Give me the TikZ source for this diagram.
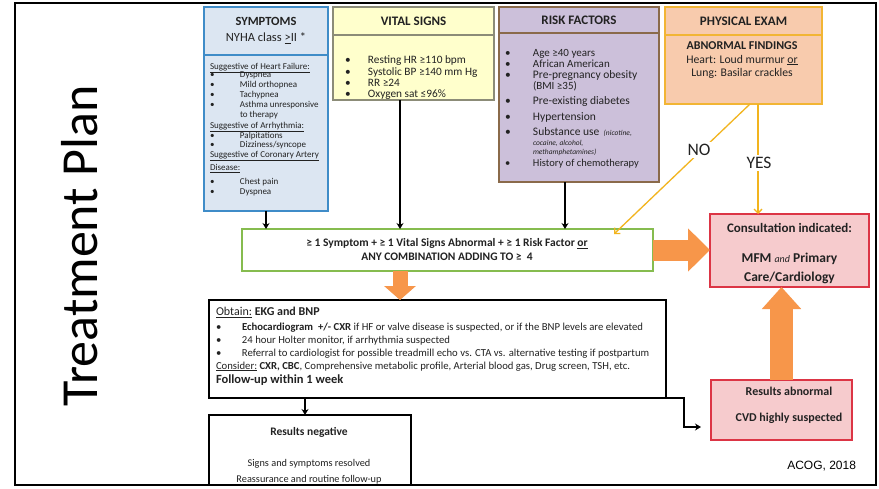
\documentclass[tikz,border=0pt]{standalone}
\usepackage{fontspec}
\setmainfont{Carlito}
\newfontfamily\arialf{Liberation Sans}
\usetikzlibrary{arrows.meta,calc}
\definecolor{txt}{HTML}{222222}
\definecolor{symF}{HTML}{DCE6F2}
\definecolor{symB}{HTML}{3F8CC8}
\definecolor{vitF}{HTML}{FFFFCC}
\definecolor{vitB}{HTML}{8C8C78}
\definecolor{rskF}{HTML}{CCC0DA}
\definecolor{rskB}{HTML}{8A6A4A}
\definecolor{peF}{HTML}{F8CBAD}
\definecolor{peB}{HTML}{F2B534}
\definecolor{grnB}{HTML}{86BC4F}
\definecolor{pnkF}{HTML}{F6CBCD}
\definecolor{pnkB}{HTML}{DC3545}
\definecolor{orng}{HTML}{F7964A}
\definecolor{goldc}{HTML}{F2B41E}
\newcommand{\bu}[1]{\makebox[#1pt][l]{\textbullet}}
\newcommand{\fs}[1]{\fontsize{#1}{#1}\selectfont}
\begin{document}
\begin{tikzpicture}[x=1pt,y=-1pt,
  every node/.style={inner sep=0pt, outer sep=0pt, text=txt},
  box/.style={draw, line width=1.4pt, anchor=north west, inner sep=0pt, outer sep=0pt},
  hd/.style={font=\bfseries\fs{13}},
  li/.style={anchor=base west},
  blk/.style={draw=black, line width=1.3pt, -{Stealth[length=6pt,width=7pt]}},
  gld/.style={draw=goldc, line width=1.3pt, -{Straight Barb[length=4pt,width=8pt]}},
  lab/.style={fill=white, inner sep=2pt, font=\fs{17.5}}
]
\useasboundingbox (0,0) rectangle (879,488);
\fill[white] (0,0) rectangle (879,488);
\node[draw=black, line width=1.5pt, anchor=north west, minimum width=861, minimum height=482] (frame) at (15,3) {};

% Treatment plan title
\node[rotate=90, font=\fs{52}, text=black] (tp) at (80,246) {Treatment Plan};
\node[font=\arialf\fs{12}, anchor=east, text=black] (acog) at (856,466) {ACOG, 2018};

% ---- Symptoms
\node[box, draw=symB, fill=symF, minimum width=124, minimum height=204] (sym) at (204,7) {};
\draw[symB, line width=1.4pt] ($(sym.north west)+(0,48)$) -- ($(sym.north east)+(0,48)$);
\node[font=\bfseries\fs{12.5}] (symT) at (266,21) {SYMPTOMS};
\node[font=\fs{12.5}] (symN) at (266,38) {NYHA class \underline{>}II *};
\begin{scope}[every node/.append style={li, font=\fs{9}}]
\node (s1) at (210,69.5) {\underline{Suggestive of Heart Failure:}};
\node (s2) at (210,77.5) {\bu{30}Dyspnea};
\node (s3) at (210,87.5) {\bu{30}Mild orthopnea};
\node (s4) at (210,97) {\bu{30}Tachypnea};
\node (s5) at (210,107.5) {\bu{30}Asthma unresponsive};
\node (s6) at (240,117.5) {to therapy};
\node (s7) at (210,128) {\underline{Suggestive of Arrhythmia:}};
\node (s8) at (210,138) {\bu{30}Palpitations};
\node (s9) at (210,147.5) {\bu{30}Dizziness/syncope};
\node (s10) at (210,157.5) {\underline{Suggestive of Coronary Artery}};
\node (s11) at (210,170.5) {\underline{Disease:}};
\node (s12) at (210,184.5) {\bu{30}Chest pain};
\node (s13) at (210,194.5) {\bu{30}Dyspnea};
\end{scope}

% ---- Vital signs
\node[box, draw=vitB, fill=vitF, minimum width=161, minimum height=93] (vit) at (333,7) {};
\draw[vitB, line width=1.4pt] ($(vit.north west)+(0,28)$) -- ($(vit.north east)+(0,28)$);
\node[hd] (vitT) at (413.5,21) {VITAL SIGNS};
\begin{scope}[every node/.append style={li, font=\fs{11.3}}]
\node (v1) at (345,63.5) {\bu{23}Resting HR ≥110 bpm};
\node (v2) at (345,75) {\bu{23}Systolic BP ≥140 mm Hg};
\node (v3) at (345,86.5) {\bu{23}RR ≥24};
\node (v4) at (345,97.5) {\bu{23}Oxygen sat ≤96\%};
\end{scope}

% ---- Risk factors
\node[box, draw=rskB, fill=rskF, minimum width=160, minimum height=175] (rsk) at (499,7) {};
\draw[rskB, line width=1.4pt] ($(rsk.north west)+(0,26)$) -- ($(rsk.north east)+(0,26)$);
\node[hd] (rskT) at (579,20) {RISK FACTORS};
\begin{scope}[every node/.append style={li, font=\fs{11}}]
\node (r1) at (505,56.5) {\bu{28}Age ≥40 years};
\node (r2) at (505,67.5) {\bu{28}African American};
\node[font=\fs{11.5}] (r3) at (505,78.5) {\bu{28}Pre-pregnancy obesity};
\node (r4) at (533,89.5) {(BMI ≥35)};
\node[font=\fs{11.5}] (r5) at (505,104) {\bu{28}Pre-existing diabetes};
\node[font=\fs{11.5}] (r6) at (505,120.5) {\bu{28}Hypertension};
\node[font=\fs{11.5}] (r7) at (505,135.5) {\bu{28}Substance use {\itshape\fs{7.5} (nicotine,}};
\node[font=\itshape\fs{7.5}] (r8) at (533,145) {cocaine, alcohol,};
\node[font=\itshape\fs{7.5}] (r9) at (533,154.5) {methamphetamines)};
\node[font=\fs{10.5}] (r10) at (505,166) {\bu{28}History of chemotherapy};
\end{scope}

% ---- Physical exam
\node[box, draw=peB, fill=peF, minimum width=157, minimum height=97] (pe) at (665,7) {};
\draw[peB, line width=1.4pt] ($(pe.north west)+(0,28)$) -- ($(pe.north east)+(0,28)$);
\node[hd] (peT) at (743.5,21) {PHYSICAL EXAM};
\node[anchor=base, font=\bfseries\fs{12}] (pe1) at (742,49.5) {ABNORMAL FINDINGS};
\node[anchor=base, font=\fs{11.7}] (pe2) at (742,63) {Heart: Loud murmur \underline{or}};
\node[anchor=base, font=\fs{11.7}] (pe3) at (742,76) {Lung: Basilar crackles};

% ---- Combination box
\node[box, draw=grnB, fill=white, minimum width=411, minimum height=42] (grn) at (242,229) {};
\node[anchor=base, font=\bfseries\fs{11.5}] (g1) at (447,246.5) {≥ 1 Symptom + ≥ 1 Vital Signs Abnormal + ≥ 1 Risk Factor \underline{or}};
\node[anchor=base, font=\bfseries\fs{11.5}] (g2) at (447,260) {ANY COMBINATION ADDING TO ≥\ \ 4};

% ---- Consultation
\node[box, draw=pnkB, fill=pnkF, minimum width=159, minimum height=73] (cons) at (710,214) {};
\node[anchor=base, font=\bfseries\fs{13}] (c1) at (789.5,232) {Consultation indicated:};
\node[anchor=base, font=\bfseries\fs{13.5}] (c2) at (789.5,262.5) {MFM {\mdseries\itshape\fs{10}and} Primary};
\node[anchor=base, font=\bfseries\fs{13.5}] (c3) at (789.5,281) {Care/Cardiology};

% ---- Obtain box
\node[box, draw=black, fill=white, line width=1.6pt, minimum width=457, minimum height=98] (obt) at (209,300) {};
\begin{scope}[every node/.append style={li, font=\fs{10.7}}]
\node[font=\fs{12}] (o1) at (216,315.5) {\underline{Obtain:} \textbf{EKG and BNP}};
\node (o2) at (216,330) {\bu{26}\textbf{Echocardiogram\ \ +/- CXR} if HF or valve disease is suspected, or if the BNP levels are elevated};
\node (o3) at (216,343) {\bu{26}24 hour Holter monitor, if arrhythmia\ suspected};
\node (o4) at (216,356) {\bu{26}Referral to cardiologist for possible treadmill echo vs. CTA vs. alternative testing if postpartum};
\node (o5) at (216,369) {\underline{Consider:} \textbf{CXR, CBC}, Comprehensive metabolic profile, Arterial blood gas, Drug screen, TSH, etc.};
\node[font=\bfseries\fs{12.5}] (o6) at (216,383) {Follow-up within 1 week};
\end{scope}

% ---- Results negative
\node[box, draw=black, fill=white, line width=1.6pt, minimum width=202, minimum height=70] (neg) at (209,415) {};
\node[anchor=base, font=\bfseries\fs{11.5}] (n1) at (309,435.5) {Results negative};
\node[anchor=base, font=\fs{10.3}] (n2) at (309,466) {Signs and symptoms resolved};
\node[anchor=base, font=\fs{10.3}] (n3) at (309,482) {Reassurance and routine follow-up};

% ---- Results abnormal
\node[box, draw=pnkB, fill=pnkF, minimum width=141, minimum height=60] (ab) at (711,380) {};
\node[anchor=base, font=\bfseries\fs{12}] (a1) at (789,395.5) {Results abnormal};
\node[anchor=base, font=\bfseries\fs{12}] (a2) at (789,421.5) {CVD highly suspected};

% ---- black connectors
\draw[blk] (sym.south) -- (sym.south |- grn.north);
\coordinate (vitS) at ($(vit.south)+(-13.5,0)$);
\draw[blk] (vitS) -- (vitS |- grn.north);
\coordinate (rskS) at ($(rsk.south)+(-14,0)$);
\draw[blk] (rskS) -- (rskS |- grn.north);
\coordinate (obtS) at ($(obt.south west)+(96,0)$);
\draw[blk] (obtS) -- (obtS |- neg.north);
\coordinate (abIn) at ($(ab.west)+(-10,17)$);
\draw[blk] (obt.south east) -| ($(abIn)+(-17,0)$) -- (abIn);

% ---- gold connectors
\coordinate (noS) at ($(pe.south west)+(85,0)$);
\coordinate (noE) at ($(grn.north east)+(-39,5)$);
\draw[gld] (noS) -- (noE);
\node[lab] (no) at (699,150) {NO};
\coordinate (yesS) at ($(pe.south west)+(93,0)$);
\draw[gld] (yesS) -- (yesS |- cons.north);
\node[lab] (yes) at (759,163) {YES};

% ---- orange block arrows
\draw[orng, line width=21pt, -{Triangle[length=22pt,width=42pt]}] (grn.east) -- (grn.east -| cons.west);
\coordinate (grnS) at ($(grn.south west)+(158,0)$);
\draw[orng, line width=15pt, -{Triangle[length=14pt,width=31pt]}] (grnS) -- (grnS |- obt.north);
\draw[orng, line width=23pt, -{Triangle[length=22pt,width=38pt]}] (ab.north) -- (ab.north |- cons.south);
\end{tikzpicture}
\end{document}
